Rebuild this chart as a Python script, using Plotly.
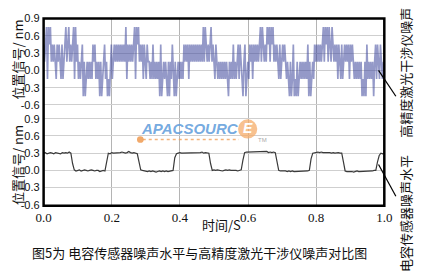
import plotly.graph_objects as go

# ---------------- data ----------------
# Top panel: high-precision laser interferometer noise (nm), ~1 ms sampling
interferometer_nm = [
    0.45,0.15,0.45,0.75,-0.15,0.75,0.45,0.75,0.15,0.45,0.15,0.45,0.15,-0.15,0.45,0.15,0.45,0.15,-0.15,0.45,-0.15,0.15,0.45,0.75,0.15,0.45,0.75,0.15,0.45,0.15,0.45,0.75,-0.15,0.75,0.15,0.45,
    -0.15,0.15,-0.15,0.15,0.45,-0.45,0.15,-0.45,-0.15,0.15,-0.15,0.15,-0.15,0.15,-0.15,0.45,0.15,0.45,-0.15,0.15,-0.15,0.15,-0.45,0.15,-0.45,-0.15,0.15,0.45,-0.15,0.15,-0.45,-0.15,-0.45,0.15,0.45,-0.15,0.15,
    0.45,0.15,0.45,0.15,0.45,0.15,0.45,0.15,0.45,0.15,0.45,0.15,0.75,-0.15,0.45,0.15,0.45,0.15,0.45,0.15,0.45,0.75,-0.15,0.75,0.45,0.75,0.15,0.45,0.15,0.45,-0.15,0.45,0.15,-0.15,0.45,0.15,
    0.15,-0.15,0.15,-0.15,0.45,-0.15,0.15,-0.15,0.15,-0.15,0.15,-0.45,0.45,-0.45,-0.15,0.15,-0.15,0.15,-0.15,-0.45,0.15,-0.45,0.15,-0.15,0.45,-0.15,-0.45,0.15,-0.45,-0.15,0.15,-0.15,0.15,-0.15,0.15,-0.15,
    0.45,0.15,0.45,0.15,0.45,-0.15,0.45,0.15,0.45,0.15,0.45,0.15,0.45,0.15,0.45,0.15,0.45,0.15,0.45,0.15,0.75,0.15,0.75,0.45,0.15,0.45,0.15,0.45,0.75,0.15,0.45,0.15,-0.15,0.45,0.15,
    -0.15,0.15,-0.15,0.15,-0.15,0.15,-0.15,0.15,-0.15,0.15,-0.15,-0.45,0.15,-0.15,0.15,-0.15,0.45,-0.15,0.15,-0.15,0.15,0.45,-0.15,0.45,0.15,-0.15,-0.45,0.15,0.45,-0.45,-0.15,0.15,-0.15,
    0.45,0.15,0.45,-0.15,0.45,0.15,0.45,0.15,0.45,0.15,0.45,0.75,0.15,0.75,0.45,0.15,0.45,0.15,0.75,0.45,0.75,0.15,0.75,0.45,0.75,0.15,0.45,0.15,0.45,0.15,-0.15,0.45,-0.15,0.15,0.45,0.15,0.45,0.15,
    -0.15,0.15,-0.15,-0.45,0.15,-0.45,-0.15,0.45,-0.45,-0.15,-0.45,0.15,-0.45,-0.15,0.15,-0.15,0.15,-0.15,0.15,-0.15,0.15,-0.15,0.45,-0.45,0.15,-0.45,-0.15,0.15,
    -0.15,0.45,0.15,0.45,0.15,0.45,0.15,0.45,0.15,0.45,0.75,0.15,0.75,0.45,0.75,0.15,0.75,0.45,0.15,0.75,0.45,0.15,0.45,0.15,0.45,-0.15,0.45,0.15,-0.15,0.45,-0.15,0.15,0.45,0.15,0.45,0.15,0.45,-0.15,0.45,0.15,0.45,0.15,
    -0.15,0.15,-0.15,0.15,-0.15,0.15,-0.15,0.15,-0.45,-0.15,-0.45,0.15,-0.45,0.45,-0.15,0.15,-0.15,0.15,-0.15,0.15,-0.45,0.15,0.45,-0.15,0.45,0.15,-0.15,0.45,0.15,-0.15,0.15,-0.15,
]
interferometer_step_s = 1 / 352

# Bottom panel: capacitive sensor noise (nm), 5 ms sampling
capacitive_nm = [
    0.30,0.31,0.29,0.30,0.31,0.30,0.29,0.31,0.30,0.30,0.29,0.31,0.30,0.31,0.30,0.32,0.30,
    0.12,
    0.01,-0.01,0.00,0.01,-0.01,0.00,0.01,0.00,-0.01,0.00,0.01,0.00,-0.01,0.00,0.00,-0.02,-0.01,0.00,-0.01,
    0.18,
    0.30,0.29,0.31,0.30,0.30,0.31,0.30,0.31,0.32,0.31,0.30,0.31,0.33,0.31,0.30,0.31,0.30,0.29,
    0.15,
    0.01,0.00,-0.01,-0.01,-0.02,-0.01,-0.02,-0.01,-0.02,-0.03,-0.02,-0.01,-0.02,-0.01,-0.02,-0.01,-0.02,-0.01,-0.01,0.00,
    0.22,
    0.29,0.30,0.31,0.30,0.30,0.31,0.30,0.31,0.30,0.30,0.31,0.30,0.31,0.30,0.31,0.32,0.30,0.31,0.30,0.30,
    0.12,
    0.00,0.01,0.00,0.01,0.00,0.00,-0.01,0.00,0.01,0.00,0.01,0.00,0.00,0.01,0.00,-0.01,0.00,0.01,
    0.18,
    0.31,0.32,0.32,0.33,0.32,0.33,0.32,0.33,0.32,0.32,0.33,0.32,0.32,0.33,0.31,0.32,0.31,0.32,0.31,
    0.15,
    0.00,-0.01,-0.01,0.00,-0.01,-0.02,-0.01,-0.02,-0.01,-0.02,-0.02,-0.01,-0.02,-0.01,-0.02,-0.02,-0.01,-0.01,0.00,
    0.20,
    0.30,0.31,0.31,0.32,0.31,0.32,0.31,0.31,0.32,0.31,0.31,0.30,0.31,0.30,0.31,0.31,0.30,0.30,
    0.15,
    -0.01,-0.02,-0.02,-0.01,-0.02,-0.03,-0.02,-0.01,-0.02,-0.02,-0.01,-0.02,-0.02,-0.01,-0.01,-0.02,-0.01,0.00,0.00,
    0.15,
    0.26,0.30,0.29,0.30,
]
capacitive_step_s = 0.005

y_ticks = [-0.6, -0.3, 0.0, 0.3, 0.6, 0.9]
y_tick_text = ["-0.6", "-0.3", "0.0", "0.3", "0.6", "0.9"]
x_ticks = [0.0, 0.2, 0.4, 0.6, 0.8, 1.0]
x_tick_text = ["0.0", "0.2", "0.4", "0.6", "0.8", "1.0"]

y_title = "位置信号/ nm"
x_title = "时间/S"
top_label = "高精度激光干涉仪噪声"
bottom_label = "电容传感器噪声水平"
caption = "图5为 电容传感器噪声水平与高精度激光干涉仪噪声对比图"

t_top = [i * interferometer_step_s for i in range(len(interferometer_nm))]
t_bot = [i * capacitive_step_s for i in range(len(capacitive_nm))]

# ---------------- figure ----------------
W, H = 426, 278
def px(x):
    return x / W
def py(y):
    return 1 - y / H

X0, X1 = px(37), px(391)
TOP = (py(108), py(13))
BOT = (py(208), py(108))

CJK = "Noto Sans CJK SC"
fig = go.Figure()
fig.add_trace(go.Scatter(x=t_top, y=interferometer_nm, mode="lines",
                         line=dict(color="rgba(70,80,160,0.58)", width=1.7),
                         xaxis="x", yaxis="y", showlegend=False))
fig.add_trace(go.Scatter(x=t_bot, y=capacitive_nm, mode="lines",
                         line=dict(color="#3a3a3a", width=1.2),
                         xaxis="x2", yaxis="y2", showlegend=False))

grid_x = dict(range=[0, 1], tickvals=x_ticks, showgrid=True, gridcolor="#b4b4b4",
              gridwidth=1, zeroline=False, showline=False, ticks="")
grid_y = dict(tickvals=y_ticks, ticktext=y_tick_text, showgrid=True, gridcolor="#cfcfcf",
              gridwidth=1, zeroline=False, showline=False, ticks="", ticklabelstandoff=3,
              tickfont=dict(family="Liberation Sans", size=11, color="#111"))

fig.update_layout(
    width=W, height=H, margin=dict(l=0, r=0, t=0, b=0),
    paper_bgcolor="white", plot_bgcolor="white",
    xaxis=dict(domain=[X0, X1], anchor="y", showticklabels=False, **grid_x),
    yaxis=dict(domain=list(TOP), anchor="x", range=[-0.683, 0.9], **grid_y),
    xaxis2=dict(domain=[X0, X1], anchor="y2", showticklabels=True, ticktext=x_tick_text,
                ticklabelstandoff=2,
                tickfont=dict(family="Liberation Serif", size=13, color="#111"), **grid_x),
    yaxis2=dict(domain=list(BOT), anchor="x2", range=[-0.617, 1.058], **grid_y),
)

# outer frame
fig.add_shape(type="rect", xref="paper", yref="paper", x0=X0, x1=X1, y0=BOT[0], y1=TOP[1],
              line=dict(color="black", width=2.5))

# leader lines
fig.add_shape(type="line", xref="paper", yref="paper", x0=px(385), y0=py(67), x1=px(403), y1=py(94),
              line=dict(color="black", width=1.2))
fig.add_shape(type="line", xref="paper", yref="paper", x0=px(385), y0=py(165), x1=px(403), y1=py(198),
              line=dict(color="black", width=1.2))

# watermark
fig.add_shape(type="circle", xref="paper", yref="paper", x0=px(239), x1=px(259), y0=py(138), y1=py(118),
              fillcolor="rgba(246,172,105,0.75)", line=dict(width=0))
fig.add_shape(type="line", xref="paper", yref="paper", x0=px(140), x1=px(240), y0=py(139), y1=py(139),
              line=dict(color="rgba(240,160,90,0.8)", width=1.5, dash="dot"))
fig.add_shape(type="circle", xref="paper", yref="paper", x0=px(134), x1=px(141), y0=py(142.5), y1=py(135.5),
              fillcolor="rgba(240,160,90,0.9)", line=dict(width=0))

annos = [
    dict(text="APACSOURC", x=px(136), y=py(127.5), xanchor="left", yanchor="middle",
         font=dict(family="Liberation Sans", size=15, color="rgba(100,160,220,0.9)", weight="bold", style="italic")),
    dict(text="E", x=px(249.5), y=py(127.5), xanchor="center", yanchor="middle",
         font=dict(family="Liberation Sans", size=14, color="white", weight="bold", style="italic")),
    dict(text="TM", x=px(264), y=py(140), xanchor="center", yanchor="middle",
         font=dict(family="Liberation Sans", size=6, color="#aaa")),
    dict(text=y_title, x=px(10), y=py(56), textangle=-90, xanchor="center", yanchor="middle",
         font=dict(family=CJK, size=13, color="#111")),
    dict(text=y_title, x=px(10), y=py(166), textangle=-90, xanchor="center", yanchor="middle",
         font=dict(family=CJK, size=13, color="#111")),
    dict(text=x_title, x=px(222), y=py(228), xanchor="center", yanchor="middle",
         font=dict(family=CJK, size=13, color="#111")),
    dict(text=caption, x=px(199), y=py(257), xanchor="center", yanchor="middle",
         font=dict(family=CJK, size=13, color="#111")),
    dict(text=top_label, x=px(413), y=py(69), textangle=-90, xanchor="center", yanchor="middle",
         font=dict(family=CJK, size=13, color="#111")),
    dict(text=bottom_label, x=px(413), y=py(216), textangle=-90, xanchor="center", yanchor="middle",
         font=dict(family=CJK, size=13, color="#111")),
]
for a in annos:
    fig.add_annotation(xref="paper", yref="paper", showarrow=False, **a)

fig.write_html("out.html")
